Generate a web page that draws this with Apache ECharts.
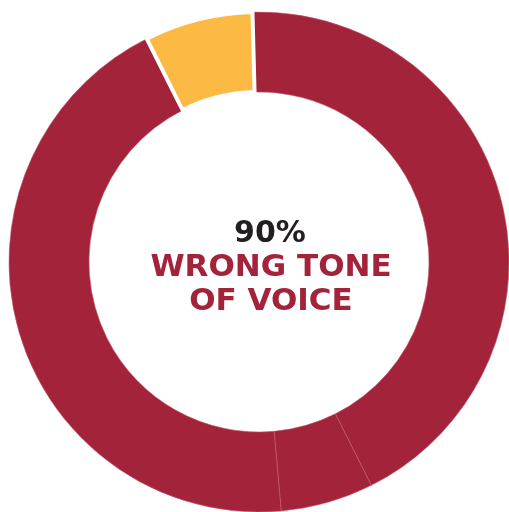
<!DOCTYPE html>
<html>
<head>
<meta charset="utf-8">
<script src="https://cdn.jsdelivr.net/npm/echarts@6/dist/echarts.min.js"></script>
<style>
  html, body { margin: 0; padding: 0; background: #fff; }
  #chart { width: 509px; height: 512px; }
</style>
</head>
<body>
<div id="chart"></div>
<script>
  // slices, clockwise from the top
  const categories = ['Wrong tone A', 'Wrong tone B', 'Wrong tone C', 'Other'];
  const values = [43, 6, 44, 7];
  const colors = ['#a3233a', '#a3233a', '#a3233a', '#fcb944'];
  const headline = '90%';
  const captionLines = ['WRONG TONE', 'OF VOICE'];

  const chart = echarts.init(document.getElementById('chart'));

  chart.setOption({
    animation: false,
    graphic: [
      {
        type: 'text', x: 270, y: 234,
        style: { text: headline, fill: '#231f20', font: 'bold 30px "DejaVu Sans"', textAlign: 'center', textVerticalAlign: 'middle' }
      },
      {
        type: 'text', x: 271, y: 268,
        style: { text: captionLines[0], fill: '#a3233a', font: 'bold 31px "DejaVu Sans"', textAlign: 'center', textVerticalAlign: 'middle' }
      },
      {
        type: 'text', x: 271, y: 302,
        style: { text: captionLines[1], fill: '#a3233a', font: 'bold 31px "DejaVu Sans"', textAlign: 'center', textVerticalAlign: 'middle' }
      }
    ],
    series: [{
      type: 'pie',
      center: [259, 262],
      radius: [170, 250],
      startAngle: 91.5,
      clockwise: true,
      silent: true,
      label: { show: false },
      labelLine: { show: false },
      data: categories.map((name, i) => ({
        name,
        value: values[i],
        itemStyle: i === 3
          ? { color: colors[i], borderColor: '#fff', borderWidth: 4 }
          : { color: colors[i], borderColor: '#c25c6c', borderWidth: 0.6 }
      }))
    }]
  });
</script>
</body>
</html>
